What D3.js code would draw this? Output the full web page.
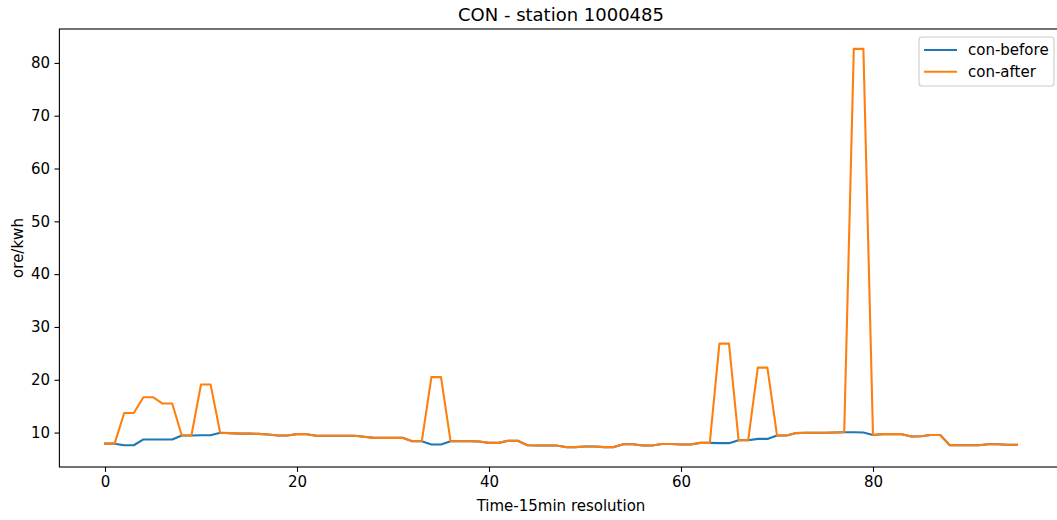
<!DOCTYPE html>
<html>
<head>
<meta charset="utf-8">
<script src="https://cdn.jsdelivr.net/npm/d3@7"></script>
<style>
  body { margin: 0; background: #fff; }
  svg { display: block; font-family: "DejaVu Sans", sans-serif; }
</style>
</head>
<body>
<svg id="chart" width="1057" height="520"></svg>
<script>
const title = "CON - station 1000485";
const xLabel = "Time-15min resolution";
const yLabel = "ore/kwh";
const seriesNames = ["con-before", "con-after"];
const seriesColors = ["#1f77b4", "#ff7f0e"];
const xTicks = [0, 20, 40, 60, 80];
const yTicks = [10, 20, 30, 40, 50, 60, 70, 80];

const conBefore = [
  7.9, 7.9, 7.6, 7.6, 8.7, 8.7, 8.7, 8.7, 9.45, 9.45,
  9.5, 9.5, 9.95, 9.9, 9.8, 9.8, 9.75, 9.65, 9.45, 9.45,
  9.7, 9.7, 9.4, 9.4, 9.4, 9.4, 9.4, 9.2, 9.0, 9.0,
  9.0, 9.0, 8.35, 8.35, 7.75, 7.75, 8.35, 8.35, 8.35, 8.3,
  8.05, 8.05, 8.45, 8.45, 7.6, 7.55, 7.55, 7.55, 7.25, 7.25,
  7.35, 7.35, 7.25, 7.25, 7.8, 7.8, 7.55, 7.55, 7.85, 7.85,
  7.75, 7.75, 8.05, 8.05, 8.0, 8.0, 8.55, 8.55, 8.8, 8.8,
  9.45, 9.45, 9.9, 9.95, 9.95, 9.95, 10.0, 10.05, 10.05, 10.0,
  9.55, 9.7, 9.7, 9.7, 9.25, 9.3, 9.55, 9.55, 7.6, 7.6,
  7.6, 7.6, 7.8, 7.8, 7.7, 7.7
];
const conAfter = [
  7.9, 7.9, 13.7, 13.7, 16.7, 16.7, 15.5, 15.5, 9.45, 9.45,
  19.1, 19.1, 9.95, 9.9, 9.8, 9.8, 9.75, 9.65, 9.45, 9.45,
  9.7, 9.7, 9.4, 9.4, 9.4, 9.4, 9.4, 9.2, 9.0, 9.0,
  9.0, 9.0, 8.35, 8.35, 20.5, 20.5, 8.35, 8.35, 8.35, 8.3,
  8.05, 8.05, 8.45, 8.45, 7.6, 7.55, 7.55, 7.55, 7.25, 7.25,
  7.35, 7.35, 7.25, 7.25, 7.8, 7.8, 7.55, 7.55, 7.85, 7.85,
  7.75, 7.75, 8.05, 8.05, 26.85, 26.85, 8.55, 8.55, 22.3, 22.3,
  9.45, 9.45, 9.9, 9.95, 9.95, 9.95, 10.0, 10.05, 82.65, 82.65,
  9.55, 9.7, 9.7, 9.7, 9.25, 9.3, 9.55, 9.55, 7.6, 7.6,
  7.6, 7.6, 7.8, 7.8, 7.7, 7.7
];

(function () {
const svg = d3.select("#chart");
const pLeft = 59.4, pRight = 1062.6, pTop = 29, pBottom = 467;
const n = conBefore.length;

const xPad = (n - 1) * 0.05;
const allVals = conBefore.concat(conAfter);
const yMin = d3.min(allVals), yMax = d3.max(allVals);
const yPad = (yMax - yMin) * 0.05;

const x = d3.scaleLinear().domain([-xPad, n - 1 + xPad]).range([pLeft, pRight]);
const y = d3.scaleLinear().domain([yMin - yPad, yMax + yPad]).range([pBottom, pTop]);

const fs = 15;

const xAxis = svg.append("g")
  .attr("transform", `translate(0,${pBottom})`)
  .call(d3.axisBottom(x).tickValues(xTicks).tickSize(4.9).tickPadding(4).tickFormat(d3.format("d")));
xAxis.select(".domain").remove();
xAxis.selectAll("line").attr("stroke", "#000").attr("stroke-width", 1.1);
xAxis.selectAll("text").attr("font-size", fs).attr("font-family", "DejaVu Sans").attr("fill", "#000");

const yAxis = svg.append("g")
  .attr("transform", `translate(${pLeft},0)`)
  .call(d3.axisLeft(y).tickValues(yTicks).tickSize(4.9).tickPadding(4.5).tickFormat(d3.format("d")));
yAxis.select(".domain").remove();
yAxis.selectAll("line").attr("stroke", "#000").attr("stroke-width", 1.1);
yAxis.selectAll("text").attr("font-size", fs).attr("font-family", "DejaVu Sans").attr("fill", "#000");

const line = d3.line().x((d, i) => x(i)).y(d => y(d));
[conBefore, conAfter].forEach((data, k) => {
  svg.append("path")
    .datum(data)
    .attr("fill", "none")
    .attr("stroke", seriesColors[k])
    .attr("stroke-width", 2.08)
    .attr("stroke-linejoin", "round")
    .attr("stroke-linecap", "square")
    .attr("d", line);
});

svg.append("rect")
  .attr("x", pLeft).attr("y", pTop)
  .attr("width", pRight - pLeft).attr("height", pBottom - pTop)
  .attr("fill", "none").attr("stroke", "#000").attr("stroke-width", 1.1);

const cx = (pLeft + pRight) / 2;
svg.append("text").attr("x", cx).attr("y", 21).attr("text-anchor", "middle")
  .attr("font-size", 18).text(title);
svg.append("text").attr("x", cx).attr("y", 511).attr("text-anchor", "middle")
  .attr("font-size", fs).text(xLabel);
svg.append("text").attr("transform", `translate(23,${(pTop + pBottom) / 2}) rotate(-90)`)
  .attr("text-anchor", "middle").attr("font-size", fs).text(yLabel);

const lg = svg.append("g");
lg.append("rect").attr("x", 919).attr("y", 37).attr("width", 135).attr("height", 49)
  .attr("rx", 3).attr("fill", "#fff").attr("fill-opacity", 0.8)
  .attr("stroke", "#cccccc").attr("stroke-width", 1.1);
seriesNames.forEach((name, k) => {
  const ly = 50 + k * 21.7;
  lg.append("line").attr("x1", 924).attr("x2", 957).attr("y1", ly).attr("y2", ly)
    .attr("stroke", seriesColors[k]).attr("stroke-width", 2.08);
  lg.append("text").attr("x", 968).attr("y", ly + 5.3).attr("font-size", fs).text(name);
});
})();
</script>
</body>
</html>
